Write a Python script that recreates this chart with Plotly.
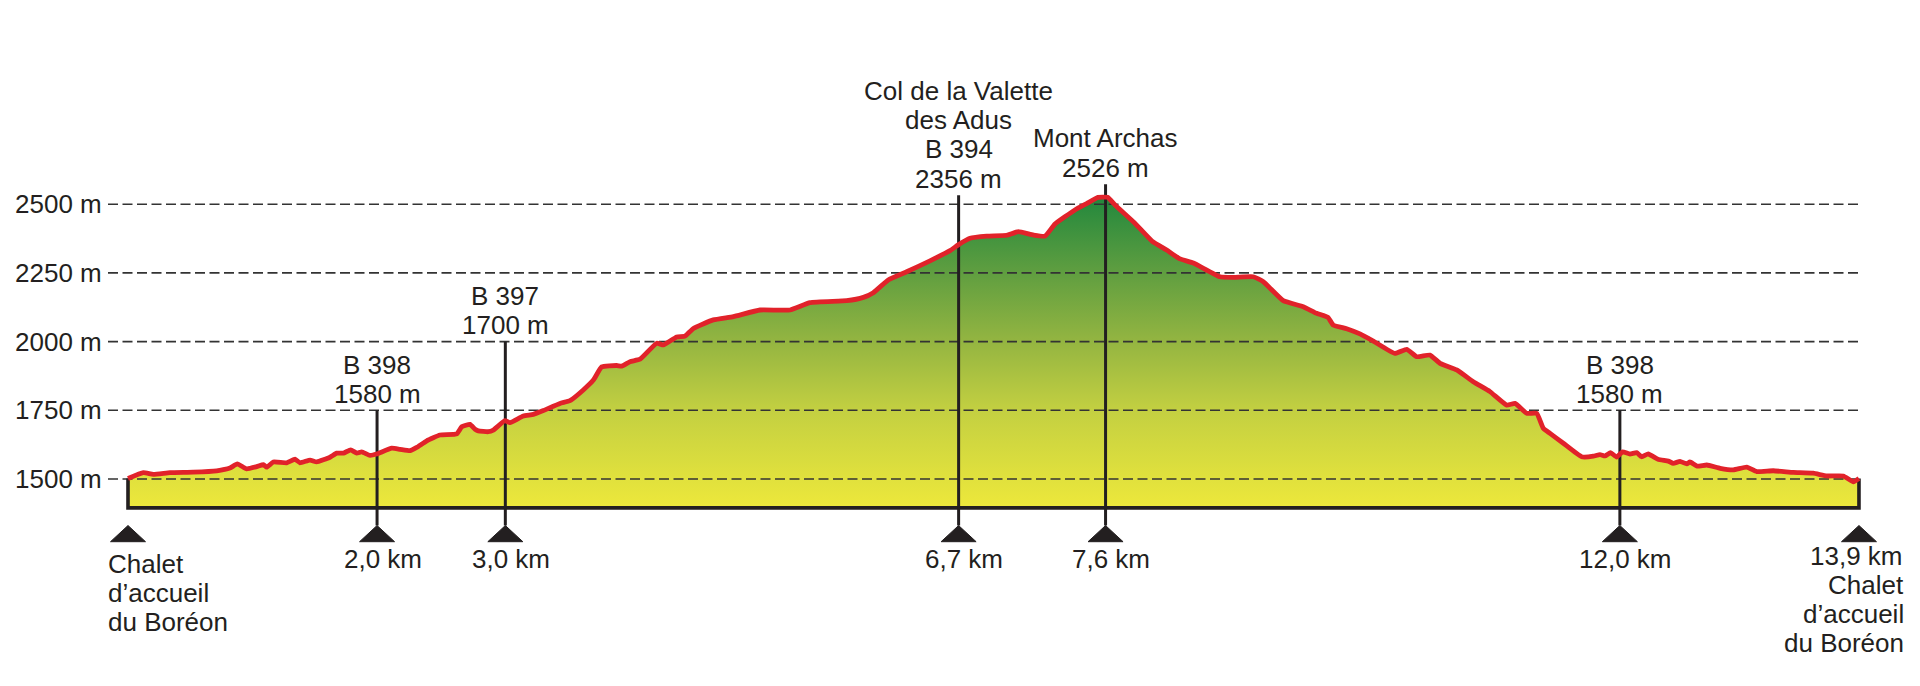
import plotly.graph_objects as go

# ---------------- data ----------------
distance_km = [0.000, 0.123, 0.203, 0.337, 0.524, 0.712, 0.819, 0.878, 0.953, 1.034,
               1.087, 1.114, 1.167, 1.274, 1.341, 1.381, 1.462, 1.515, 1.622, 1.676,
               1.729, 1.788, 1.837, 1.877, 1.943, 1.997, 2.118, 2.184, 2.265, 2.318,
               2.399, 2.505, 2.640, 2.680, 2.746, 2.787, 2.813, 2.893, 2.933, 3.027,
               3.068, 3.174, 3.255, 3.335, 3.469, 3.549, 3.656, 3.737, 3.804, 3.924,
               3.965, 4.031, 4.112, 4.246, 4.299, 4.406, 4.473, 4.540, 4.700, 4.861,
               5.075, 5.316, 5.477, 5.771, 5.905, 5.985, 6.105, 6.253, 6.440, 6.601,
               6.667, 6.761, 6.896, 7.056, 7.149, 7.270, 7.364, 7.444, 7.604, 7.701,
               7.789, 7.866, 7.926, 8.087, 8.223, 8.341, 8.448, 8.555, 8.769, 8.876,
               9.036, 9.117, 9.277, 9.438, 9.545, 9.636, 9.679, 9.786, 9.893, 10.000,
               10.174, 10.268, 10.349, 10.455, 10.536, 10.670, 10.803, 10.937, 11.071, 11.138,
               11.232, 11.312, 11.365, 11.419, 11.526, 11.673, 11.767, 11.820, 11.860, 11.905,
               11.954, 12.001, 12.061, 12.115, 12.155, 12.208, 12.286, 12.369, 12.409, 12.463,
               12.517, 12.543, 12.600, 12.678, 12.785, 12.891, 12.999, 13.079, 13.212, 13.373,
               13.533, 13.641, 13.774, 13.855, 13.900]
elevation_m = [1502, 1523, 1517, 1523, 1525, 1530, 1540, 1555, 1537, 1545,
               1552, 1543, 1562, 1559, 1572, 1559, 1569, 1562, 1579, 1594,
               1594, 1606, 1594, 1599, 1586, 1591, 1612, 1608, 1603, 1615,
               1639, 1660, 1664, 1690, 1699, 1681, 1675, 1672, 1678, 1712,
               1705, 1729, 1735, 1749, 1775, 1785, 1824, 1860, 1908, 1913,
               1911, 1927, 1936, 1994, 1988, 2017, 2020, 2048, 2079, 2091,
               2115, 2115, 2142, 2149, 2161, 2178, 2224, 2254, 2294, 2331,
               2352, 2376, 2384, 2387, 2400, 2388, 2384, 2428, 2479, 2503,
               2525, 2525, 2497, 2430, 2366, 2333, 2301, 2286, 2236, 2234,
               2236, 2218, 2149, 2127, 2103, 2088, 2060, 2047, 2028, 2002,
               1957, 1972, 1945, 1951, 1921, 1897, 1854, 1818, 1769, 1775,
               1739, 1739, 1685, 1666, 1630, 1581, 1583, 1589, 1584, 1596,
               1580, 1599, 1591, 1596, 1581, 1591, 1572, 1565, 1557, 1564,
               1555, 1562, 1547, 1551, 1539, 1533, 1543, 1527, 1530, 1524,
               1521, 1511, 1511, 1490, 1502]

base_m = 1395
y_ticks = [1500, 1750, 2000, 2250, 2500]
y_tick_labels = ["1500 m", "1750 m", "2000 m", "2250 m", "2500 m"]

marker_km = [0.0, 2.0, 3.03, 6.67, 7.85, 11.98, 13.9]
marker_labels = ["", "2,0 km", "3,0 km", "6,7 km", "7,6 km", "12,0 km", "13,9 km"]

wp_km = [2.0, 3.03, 6.67, 7.85, 11.98]
wp_top_m = [1750, 2000, 2533, 2573, 1750]
wp_text = [["B 398", "1580 m"],
           ["B 397", "1700 m"],
           ["Col de la Valette", "des Adus", "B 394", "2356 m"],
           ["Mont Archas", "2526 m"],
           ["B 398", "1580 m"]]

place_lines = ["Chalet", "d\u2019accueil", "du Bor\u00e9on"]

# ---------------- layout geometry (page pixels) ----------------
OFF = 8                  # default page body margin
W, H = 1920 - 2 * OFF, 686 - 2 * OFF
PXX = 124.53             # px per km
X0 = 128.0               # page px of km 0
PXY = 0.2748             # px per m
Y1500 = 479.0            # page px of 1500 m

def px2km(px):
    return (px - X0) / PXX

def py2m(py):
    return 1500 + (Y1500 - py) / PXY

x_range = [px2km(OFF), px2km(OFF + W)]
y_range = [py2m(OFF + H), py2m(OFF)]

FONT = dict(family="Liberation Sans, Arial, sans-serif", size=26, color="#231f20")
INK = "#231f20"
BASELINE_TO_CENTER = 9.0

fig = go.Figure()

# gradient-filled profile area
fill_x = distance_km + [distance_km[-1], distance_km[0]]
fill_y = elevation_m + [base_m, base_m]
fig.add_trace(go.Scatter(
    x=fill_x, y=fill_y, mode="lines", fill="toself",
    line=dict(width=0, color="rgba(0,0,0,0)"),
    fillgradient=dict(type="vertical", start=base_m, stop=max(elevation_m),
                      colorscale=[[0.0, "#ede83b"], [0.31, "#c4d041"],
                                  [0.535, "#94b541"], [0.76, "#5f9e40"],
                                  [1.0, "#23883d"]]),
    hoverinfo="skip", showlegend=False))

# dashed grid lines
gx0 = px2km(108)
for t in y_ticks:
    fig.add_trace(go.Scatter(
        x=[gx0, distance_km[-1]], y=[t, t], mode="lines",
        line=dict(color="#333333", width=1.6, dash="10px,4.5px"),
        hoverinfo="skip", showlegend=False))

# black outline of the base
fig.add_trace(go.Scatter(
    x=[distance_km[0], distance_km[0], distance_km[-1], distance_km[-1]],
    y=[elevation_m[0], base_m, base_m, elevation_m[-1]],
    mode="lines", line=dict(color=INK, width=3.6),
    hoverinfo="skip", showlegend=False))

# vertical waypoint lines
tri_apex = py2m(525.5)
tri_base = py2m(541.7)
for k, top in zip(wp_km, wp_top_m):
    fig.add_trace(go.Scatter(
        x=[k, k], y=[top, tri_apex], mode="lines",
        line=dict(color=INK, width=3),
        hoverinfo="skip", showlegend=False))

# red profile line
fig.add_trace(go.Scatter(
    x=distance_km, y=elevation_m, mode="lines",
    line=dict(color="#e1222a", width=4.8, shape="spline", smoothing=0.4),
    hoverinfo="skip", showlegend=False))

# triangles
hw = 17.5 / PXX
tx, ty = [], []
for k in marker_km:
    tx += [k - hw, k + hw, k, k - hw, None]
    ty += [tri_base, tri_base, tri_apex, tri_base, None]
fig.add_trace(go.Scatter(
    x=tx, y=ty, mode="lines", fill="toself", fillcolor=INK,
    line=dict(color=INK, width=1), hoverinfo="skip", showlegend=False))

ann = []

def label(xpx_or_km, baseline_px, text, anchor, is_km=False):
    x = xpx_or_km if is_km else px2km(xpx_or_km)
    ann.append(dict(x=x, y=py2m(baseline_px - BASELINE_TO_CENTER), text=text,
                    xanchor=anchor, yanchor="middle", showarrow=False, font=FONT))

# y tick labels
for t, lab in zip(y_ticks, y_tick_labels):
    ann.append(dict(x=px2km(103.5), y=t, text=lab, xanchor="right", yanchor="middle",
                    showarrow=False, font=FONT))

# waypoint labels (lines stacked upward from top of the pole)
LINE_PX = 29.3
for k, top, lines in zip(wp_km, wp_top_m, wp_text):
    top_px = Y1500 - (top - 1500) * PXY
    n = len(lines)
    for i, s in enumerate(lines):
        base_px = top_px - 7.5 - (n - 1 - i) * LINE_PX
        label(k, base_px, s, "center", is_km=True)

# km labels
for k, lab in zip(marker_km[1:-1], marker_labels[1:-1]):
    label(k + 5.5 / PXX, 567.5, lab, "center", is_km=True)
# end km label
label(1905, 564.5, marker_labels[-1], "right")

# start place label (left)
for s, by in zip(place_lines, [572.5, 601.5, 630.5]):
    label(105.5, by, s, "left")
# end place label (right)
for s, by in zip(place_lines, [593.5, 622.5, 651.5]):
    label(1906, by, s, "right")

fig.update_layout(
    width=W, height=H, margin=dict(l=0, r=0, t=0, b=0),
    paper_bgcolor="white", plot_bgcolor="white",
    xaxis=dict(range=x_range, visible=False, fixedrange=True),
    yaxis=dict(range=y_range, visible=False, fixedrange=True),
    annotations=ann, showlegend=False,
)

fig.write_html("out.html")
